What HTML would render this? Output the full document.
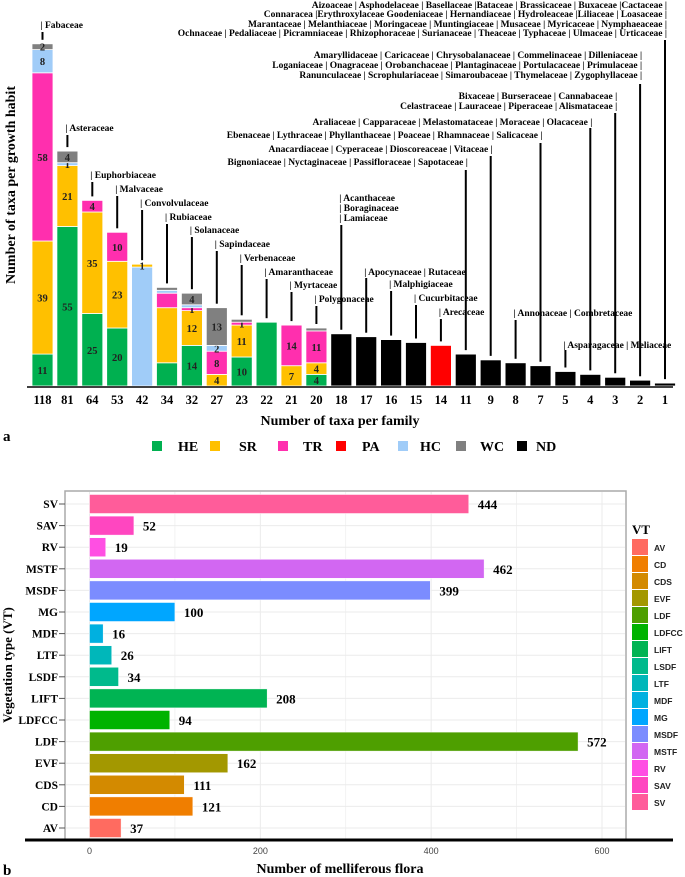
<!DOCTYPE html>
<html><head><meta charset="utf-8">
<style>
body{margin:0;background:#fff;}
svg{display:block;font-family:"Liberation Serif",serif;}
</style></head>
<body>
<svg id="fig" width="685" height="877" viewBox="0 0 685 877" xmlns="http://www.w3.org/2000/svg">
<g id="topPanel"></g>
<g id="botPanel"></g>
</svg>
<script>
// ---------- Panel a data ----------
const famCounts = [118,81,64,53,42,34,32,27,23,22,21,20,18,17,16,15,14,11,9,8,7,5,4,3,2,1];
const heVals = [11,55,25,20,0,8,14,0,10,22,0,4,0,0,0,0,0,0,0,0,0,0,0,0,0,0];
const srVals = [39,21,35,23,1,19,12,4,11,0,7,4,0,0,0,0,0,0,0,0,0,0,0,0,0,0];
const trVals = [58,0,4,10,0,5,1,8,1,0,14,11,0,0,0,0,0,0,0,0,0,0,0,0,0,0];
const paVals = [0,0,0,0,0,0,0,0,0,0,0,0,0,0,0,0,14,0,0,0,0,0,0,0,0,0];
const hcVals = [8,1,0,0,41,1,1,2,0,0,0,0,0,0,0,0,0,0,0,0,0,0,0,0,0,0];
const wcVals = [2,4,0,0,0,1,4,13,1,0,0,1,0,0,0,0,0,0,0,0,0,0,0,0,0,0];
const ndVals = [0,0,0,0,0,0,0,0,0,0,0,0,18,17,16,15,0,11,9,8,7,5,4,3,2,1];
const labeledSegments = {HE:[0,1,2,3,6,8,11],SR:[0,1,2,3,4,6,7,8,10,11],TR:[0,2,3,6,7,8,10,11],HC:[0,1,7],WC:[0,1,6,7]};

// ---------- Panel b data ----------
const vtTypes = ["SV","SAV","RV","MSTF","MSDF","MG","MDF","LTF","LSDF","LIFT","LDFCC","LDF","EVF","CDS","CD","AV"];
const vtValues = [444,52,19,462,399,100,16,26,34,208,94,572,162,111,121,37];
const vtColors = ["#FF5C9A","#FF46C0","#FF4FE3","#D267F2","#7B8CFF","#00A6FF","#00B0E0","#00B7BA","#00BA8C","#00B453","#00B300","#4E9F00","#A39800","#D38A00","#F07E00","#FF6B60"];
const legendOrder = ["AV","CD","CDS","EVF","LDF","LDFCC","LIFT","LSDF","LTF","MDF","MG","MSDF","MSTF","RV","SAV","SV"];
const xTicks = [0,200,400,600];

const NS="http://www.w3.org/2000/svg";
function mk(parent,tag,attrs,text){const e=document.createElementNS(NS,tag);for(const k in attrs)e.setAttribute(k,attrs[k]);if(text!==undefined)e.textContent=text;parent.appendChild(e);return e;}

// ===== Panel a =====
const topG=document.getElementById('topPanel');
const base=386, ppu=2.9, x0=42.5, pitch=24.9, bw=21;
const xa=i=>x0+i*pitch;
const ya=v=>base-v*ppu;
const segDefs={HE:[heVals,"#00B050"],SR:[srVals,"#FFC000"],TR:[trVals,"#FF2FAE"],PA:[paVals,"#FF0000"],HC:[hcVals,"#A0CCF8"],WC:[wcVals,"#808080"],ND:[ndVals,"#000000"]};
const defaultOrder=["HE","SR","TR","PA","HC","WC","ND"];
const orderOverride={4:["HE","HC","SR","TR","PA","WC","ND"]};
const barTops=[];
famCounts.forEach((c,i)=>{
  let cum=0;
  (orderOverride[i]||defaultOrder).forEach(key=>{
    const [arr,col]=segDefs[key];
    const v=arr[i]; if(!v) return;
    const r=mk(topG,'rect',{x:xa(i)-bw/2,y:ya(cum+v),width:bw,height:v*ppu,fill:col,stroke:'#fff','stroke-width':0.8});
    
    
    if(labeledSegments[key] && labeledSegments[key].includes(i)){
      const t=mk(topG,'text',{x:xa(i),y:ya(cum+v/2)+4,'text-anchor':'middle','font-size':10.5,'font-weight':'bold',fill:'#222'},String(v));
      
      
    }
    cum+=v;
  });
  barTops.push(ya(cum));
  const tl=mk(topG,'text',{x:xa(i),y:404,'text-anchor':'middle','font-size':12.5,'font-weight':'bold'},String(c));
  
  
});
const ax=mk(topG,'line',{x1:27,x2:673,y1:387,y2:387,stroke:'#000','stroke-width':1.5});



const lineTops=[32,135,182,196,210,224,237,251,265,279,292,306,225,278,291,305,319,170,156,320,143,350,128,113,84,40];
lineTops.forEach((t,i)=>{
  const l=mk(topG,'line',{x1:xa(i),x2:xa(i),y1:t,y2:barTops[i]-4,stroke:'#000','stroke-width':2});
  
  
});
const FS=9.5;
const leftLabels=[[0,"| Fabaceae"],[1,"| Asteraceae"],[2,"| Euphorbiaceae"],[3,"| Malvaceae"],[4,"| Convolvulaceae"],[5,"| Rubiaceae"],[6,"| Solanaceae"],[7,"| Sapindaceae"],[8,"| Verbenaceae"],[9,"| Amaranthaceae"],[10,"| Myrtaceae"],[11,"| Polygonaceae"],[14,"| Malphigiaceae"],[15,"| Cucurbitaceae"],[16,"| Arecaceae"]];
leftLabels.forEach(([i,s])=>{
  const t=mk(topG,'text',{x:xa(i)-2,y:lineTops[i]-4,'font-size':FS,'font-weight':'bold'},s);
  
  
});
function txt(x,y,s,anchor){const t=mk(topG,'text',{x:x,y:y,'font-size':FS,'font-weight':'bold','text-anchor':anchor||'start'},s);return t;}
txt(xa(12)-2,201,"| Acanthaceae");txt(xa(12)-2,211,"| Boraginaceae");txt(xa(12)-2,221,"| Lamiaceae");
txt(xa(13)-2,275,"| Apocynaceae | Rutaceae");
txt(xa(19)-2,316,"| Annonaceae | Combretaceae");
txt(xa(21)-2,348,"| Asparagaceae | Meliaceae");
txt(xa(17)+2,165,"Bignoniaceae | Nyctaginaceae | Passifloraceae | Sapotaceae |","end");
txt(xa(18)+2,152,"Anacardiaceae | Cyperaceae | Dioscoreaceae | Vitaceae |","end");
txt(xa(20)+2,138,"Ebenaceae | Lythraceae | Phyllanthaceae | Poaceae | Rhamnaceae | Salicaceae |","end");
txt(xa(22)+2,125,"Araliaceae | Capparaceae | Melastomataceae | Moraceae | Olacaceae |","end");
txt(xa(23)+2,99,"Bixaceae | Burseraceae | Cannabaceae |","end");
txt(xa(23)+2,109,"Celastraceae | Lauraceae | Piperaceae | Alismataceae |","end");
txt(xa(24)+2,58,"Amaryllidaceae | Caricaceae | Chrysobalanaceae | Commelinaceae | Dilleniaceae |","end");
txt(xa(24)+2,68,"Loganiaceae | Onagraceae | Orobanchaceae | Plantaginaceae | Portulacaceae | Primulaceae |","end");
txt(xa(24)+2,78,"Ranunculaceae | Scrophulariaceae | Simaroubaceae | Thymelaceae | Zygophyllaceae |","end");
txt(xa(25)+2,8,"Aizoaceae | Asphodelaceae | Basellaceae |Bataceae | Brassicaceae | Buxaceae |Cactaceae |","end");
txt(xa(25)+2,17,"Connaracea |Erythroxylaceae Goodeniaceae | Hernandiaceae | Hydroleaceae |Liliaceae | Loasaceae |","end");
txt(xa(25)+2,27,"Marantaceae | Melanthiaceae | Moringaceae | Muntingiaceae | Musaceae | Myricaceae | Nymphaeaceae |","end");
txt(xa(25)+2,36,"Ochnaceae | Pedaliaceae | Picramniaceae | Rhizophoraceae | Surianaceae | Theaceae | Typhaceae | Ulmaceae | Urticaceae |","end");

let e;
e=mk(topG,'text',{x:340,y:425,'text-anchor':'middle','font-size':14,'font-weight':'bold'},"Number of taxa per family");

e=mk(topG,'text',{x:0,y:0,'text-anchor':'middle','font-size':14,'font-weight':'bold',transform:'translate(15,185) rotate(-90)'},"Number of taxa per growth habit");

e=mk(topG,'text',{x:3,y:441,'font-size':15,'font-weight':'bold'},"a");

const legA=[["HE","#00B050",152,178],["SR","#FFC000",210,239],["TR","#FF2FAE",278,303],["PA","#FF0000",336,362],["HC","#A0CCF8",398,420],["WC","#808080",456,480],["ND","#000000",517,536]];
legA.forEach(([n,c,sx,tx])=>{
  const r=mk(topG,'rect',{x:sx,y:441,width:10,height:10,fill:c});
  
  const t=mk(topG,'text',{x:tx,y:451,'font-size':14,'font-weight':'bold'},n);
  
});

// ===== Panel b =====
const botG=document.getElementById('botPanel');
const bx0=89.5, bppu=(602-89.5)/600, rowTop=504, rowStep=21.6, bh=19;
const xb=v=>bx0+v*bppu;
const yb=i=>rowTop+i*rowStep;
e=mk(botG,'rect',{x:65,y:491,width:561,height:349,fill:'#fff',stroke:'#aaa','stroke-width':1.5});

for(let v=0;v<=700;v+=100){const x=xb(v);if(x>625)break;
  const g=mk(botG,'line',{x1:x,x2:x,y1:492,y2:839,stroke:'#ebebeb','stroke-width':v%200===0?1:0.6});
  }
vtTypes.forEach((t,i)=>{
  const g=mk(botG,'line',{x1:66,x2:625,y1:yb(i),y2:yb(i),stroke:'#ebebeb','stroke-width':1});
  
});
vtTypes.forEach((t,i)=>{
  const r=mk(botG,'rect',{x:xb(0),y:yb(i)-bh/2,width:xb(vtValues[i])-xb(0),height:bh,fill:vtColors[i],stroke:'#fff','stroke-width':0.5});
  
  const v=mk(botG,'text',{x:xb(vtValues[i])+9,y:yb(i)+5,'font-size':13,'font-weight':'bold'},String(vtValues[i]));
  
  const l=mk(botG,'text',{x:58,y:yb(i)+4,'text-anchor':'end','font-size':11.5,'font-weight':'bold'},t);
  
  const tk=mk(botG,'line',{x1:59,x2:65,y1:yb(i),y2:yb(i),stroke:'#555','stroke-width':1});
  
});
e=mk(botG,'line',{x1:25,x2:673,y1:840,y2:840,stroke:'#000','stroke-width':3});

xTicks.forEach(v=>{
  const t=mk(botG,'text',{x:xb(v),y:854,'text-anchor':'middle','font-size':9,fill:'#444','font-family':'Liberation Sans, sans-serif'},String(v));
  
});
e=mk(botG,'text',{x:340,y:873,'text-anchor':'middle','font-size':14,'font-weight':'bold'},"Number of melliferous flora");

e=mk(botG,'text',{x:0,y:0,'text-anchor':'middle','font-size':13,'font-weight':'bold',transform:'translate(12,665) rotate(-90)'},"Vegetation type (VT)");

e=mk(botG,'text',{x:3,y:875,'font-size':15,'font-weight':'bold'},"b");

e=mk(botG,'text',{x:632,y:534,'font-size':13,'font-weight':'bold'},"VT");

legendOrder.forEach((n,k)=>{
  const i=vtTypes.indexOf(n);
  const r=mk(botG,'rect',{x:632,y:539+k*17,width:16,height:16,fill:vtColors[i]});
  
  const t=mk(botG,'text',{x:654,y:551+k*17,'font-size':8.5,'font-weight':'bold','font-family':'Liberation Sans, sans-serif',fill:'#222'},n);
  
});
</script>
</body></html>
